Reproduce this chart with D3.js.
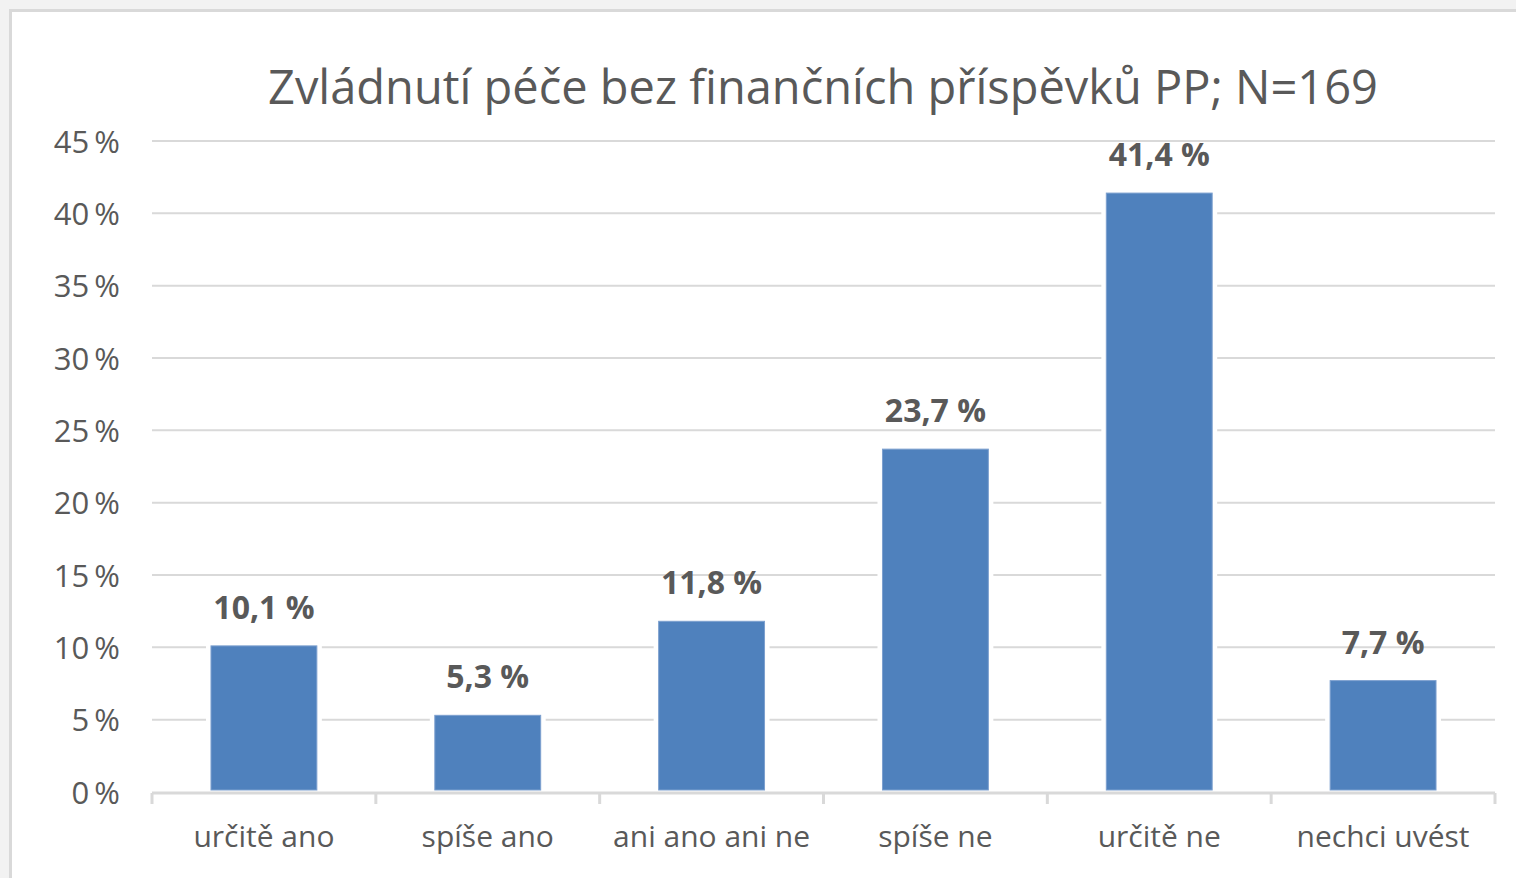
<!DOCTYPE html>
<html>
<head>
<meta charset="utf-8">
<style>
  body {
    margin: 0;
    background: #f2f2f2;
    overflow: hidden
  }
  svg text {
    font-family: "Open Sans", sans-serif
  }
</style>
<script type="text/javascript" src="https://d3js.org/d3.v7.min.js"></script>
</head>
<body>
<svg id="chart"></svg>
<script type="text/javascript">
let categories = ['určitě ano', 'spíše ano', 'ani ano ani ne', 'spíše ne', 'určitě ne', 'nechci uvést']
let values = [10.1, 5.3, 11.8, 23.7, 41.4, 7.7]
let yTicks = [0, 5, 10, 15, 20, 25, 30, 35, 40, 45]
let title = 'Zvládnutí péče bez finančních příspěvků PP; N=169'

let width = 1516,
    height = 878

let margin = {left: 152, right: 21, top: 141, bottom: 86}

let fmt = v => String(v).replace('.', ',') + ' %'

let svg = d3.select('#chart')
    .attr('width', width)
    .attr('height', height)

// chart frame
svg.append('rect')
   .attr('x', 10.5).attr('y', 10.5)
   .attr('width', width).attr('height', height)
   .attr('fill', '#fff')
   .attr('stroke', '#d9d9d9')
   .attr('stroke-width', 3)

let x = d3.scaleBand()
    .domain(categories)
    .range([margin.left, width - margin.right])
    .paddingInner(0.527)
    .paddingOuter(0.2635)

let y = d3.scaleLinear()
    .domain([0, 45])
    .range([height - margin.bottom, margin.top])

// gridlines
svg.append('g')
   .selectAll('line')
   .data(yTicks.filter(d => d > 0))
   .enter()
   .append('line')
   .attr('x1', margin.left)
   .attr('x2', width - margin.right)
   .attr('y1', d => y(d))
   .attr('y2', d => y(d))
   .attr('stroke', '#d9d9d9')
   .attr('stroke-width', 2)

// y axis labels
let yAxis = d3.axisLeft(y)
    .tickValues(yTicks)
    .tickSize(0)
    .tickPadding(32)
    .tickFormat(d => d + '\u2009%')

let gy = svg.append('g')
   .attr('transform', 'translate(' + margin.left + ',0)')
   .call(yAxis)
gy.select('.domain').remove()
gy.selectAll('text')
  .attr('fill', '#595959')
  .style('font-size', '31px')
  .attr('dy', '0.36em')

// bars with white halo so gridlines break around them
let bars = svg.append('g')
bars.selectAll('rect.halo')
   .data(values)
   .enter()
   .append('rect')
   .attr('class', 'halo')
   .attr('x', (d, i) => x(categories[i]) - 5)
   .attr('y', d => y(d) - 5)
   .attr('width', x.bandwidth() + 10)
   .attr('height', d => y(0) - y(d) + 5)
   .attr('fill', '#fff')

bars.selectAll('rect.bar')
   .data(values)
   .enter()
   .append('rect')
   .attr('class', 'bar')
   .attr('x', (d, i) => x(categories[i]))
   .attr('y', d => y(d))
   .attr('width', x.bandwidth())
   .attr('height', d => y(0) - y(d) - 2)
   .attr('fill', '#4f81bd')
   .attr('stroke', '#7da0cf')
   .attr('stroke-width', 1)

// x axis
let xAxis = d3.axisBottom(x)
    .tickSize(0)
    .tickPadding(33)

let gx = svg.append('g')
   .attr('transform', 'translate(0,' + (y(0) + 1) + ')')
   .call(xAxis)
gx.select('.domain').remove()
gx.selectAll('text')
  .attr('fill', '#595959')
  .style('font-size', '30px')

gx.append('line')
  .attr('x1', margin.left).attr('x2', width - margin.right)
  .attr('stroke', '#d9d9d9').attr('stroke-width', 3)

let step = x.step()
gx.selectAll('line.sep')
  .data(d3.range(categories.length + 1))
  .enter()
  .append('line')
  .attr('class', 'sep')
  .attr('x1', i => margin.left + i * step)
  .attr('x2', i => margin.left + i * step)
  .attr('y1', 0).attr('y2', 11)
  .attr('stroke', '#d9d9d9').attr('stroke-width', 3)

// data labels
svg.append('g')
   .selectAll('text')
   .data(values)
   .enter()
   .append('text')
   .attr('x', (d, i) => x(categories[i]) + x.bandwidth() / 2)
   .attr('y', d => y(d) - 27)
   .attr('text-anchor', 'middle')
   .attr('fill', '#595959')
   .style('font-size', '32px')
   .style('font-weight', 'bold')
   .text(fmt)

// title
svg.append('text')
   .attr('x', 823)
   .attr('y', 104)
   .attr('text-anchor', 'middle')
   .attr('fill', '#595959')
   .style('font-size', '47px')
   .text(title)
</script>
</body>
</html>
